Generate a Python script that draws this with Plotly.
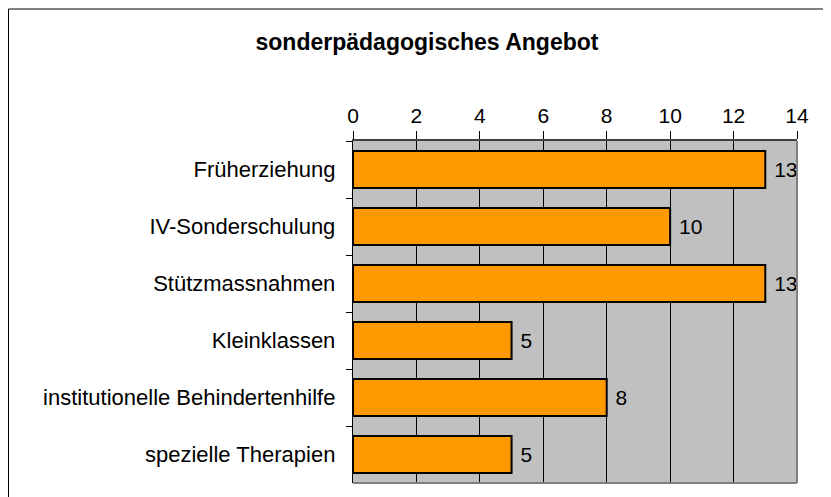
import plotly.graph_objects as go

categories = ["Früherziehung", "IV-Sonderschulung", "Stützmassnahmen", "Kleinklassen",
              "institutionelle Behindertenhilfe", "spezielle Therapien"]
values = [13, 10, 13, 5, 8, 5]
x_ticks = [0, 2, 4, 6, 8, 10, 12, 14]

# the page puts the figure 8px in from the window's corner
OFF = 8
W, H = 831 - OFF, 497 - OFF
L, T = 353 - OFF, 141 - OFF
R, B = W - (797 - OFF), H - (483 - OFF)
pw, ph = W - L - R, H - T - B

def px_x(p):
    return (p - L) / pw

def px_y(p):
    return (H - B - p) / ph

fig = go.Figure()
fig.add_trace(go.Bar(
    x=values, y=categories, orientation="h",
    marker=dict(color="#FF9900", line=dict(color="black", width=2)),
    width=0.65,
    text=[" " + str(v) for v in values], textposition="outside",
    textfont=dict(size=21, color="black"),
    cliponaxis=False,
))

fig.update_layout(
    width=W, height=H,
    margin=dict(l=L, r=R, t=T, b=B, autoexpand=False),
    paper_bgcolor="white", plot_bgcolor="#C0C0C0",
    font=dict(family="Liberation Sans, Arial, sans-serif", size=21, color="black"),
    showlegend=False,
    title=dict(text="<b>sonderpädagogisches Angebot</b>", x=(427 - OFF) / W, xref="container",
               y=1 - (42 - OFF) / H, yref="container", xanchor="center", yanchor="middle",
               font=dict(size=23)),
    xaxis=dict(side="top", range=[0, 14], tickvals=x_ticks, ticks="outside", ticklen=8,
               tickcolor="black", showgrid=True, gridcolor="black", gridwidth=1,
               showline=True, linecolor="#404040", linewidth=2, zeroline=False,
               automargin=False, fixedrange=True),
    yaxis=dict(autorange="reversed", ticks="outside", tickson="boundaries", ticklen=6,
               tickcolor="black", showline=True, linecolor="black", linewidth=1,
               tickfont=dict(size=22),
               ticksuffix="  ", showgrid=False, automargin=False),
    shapes=[
        dict(type="line", xref="paper", yref="paper", x0=1, x1=1, y0=0, y1=1,
             line=dict(color="#808080", width=2), layer="above"),
        dict(type="line", xref="paper", yref="paper", x0=0, x1=1, y0=0, y1=0,
             line=dict(color="#808080", width=2), layer="above"),
        dict(type="rect", xref="paper", yref="paper", x0=px_x(0.5), x1=px_x(W + 20),
             y0=px_y(H + 20), y1=px_y(1), line=dict(color="black", width=1)),
    ],
)

fig.write_html("out.html")
